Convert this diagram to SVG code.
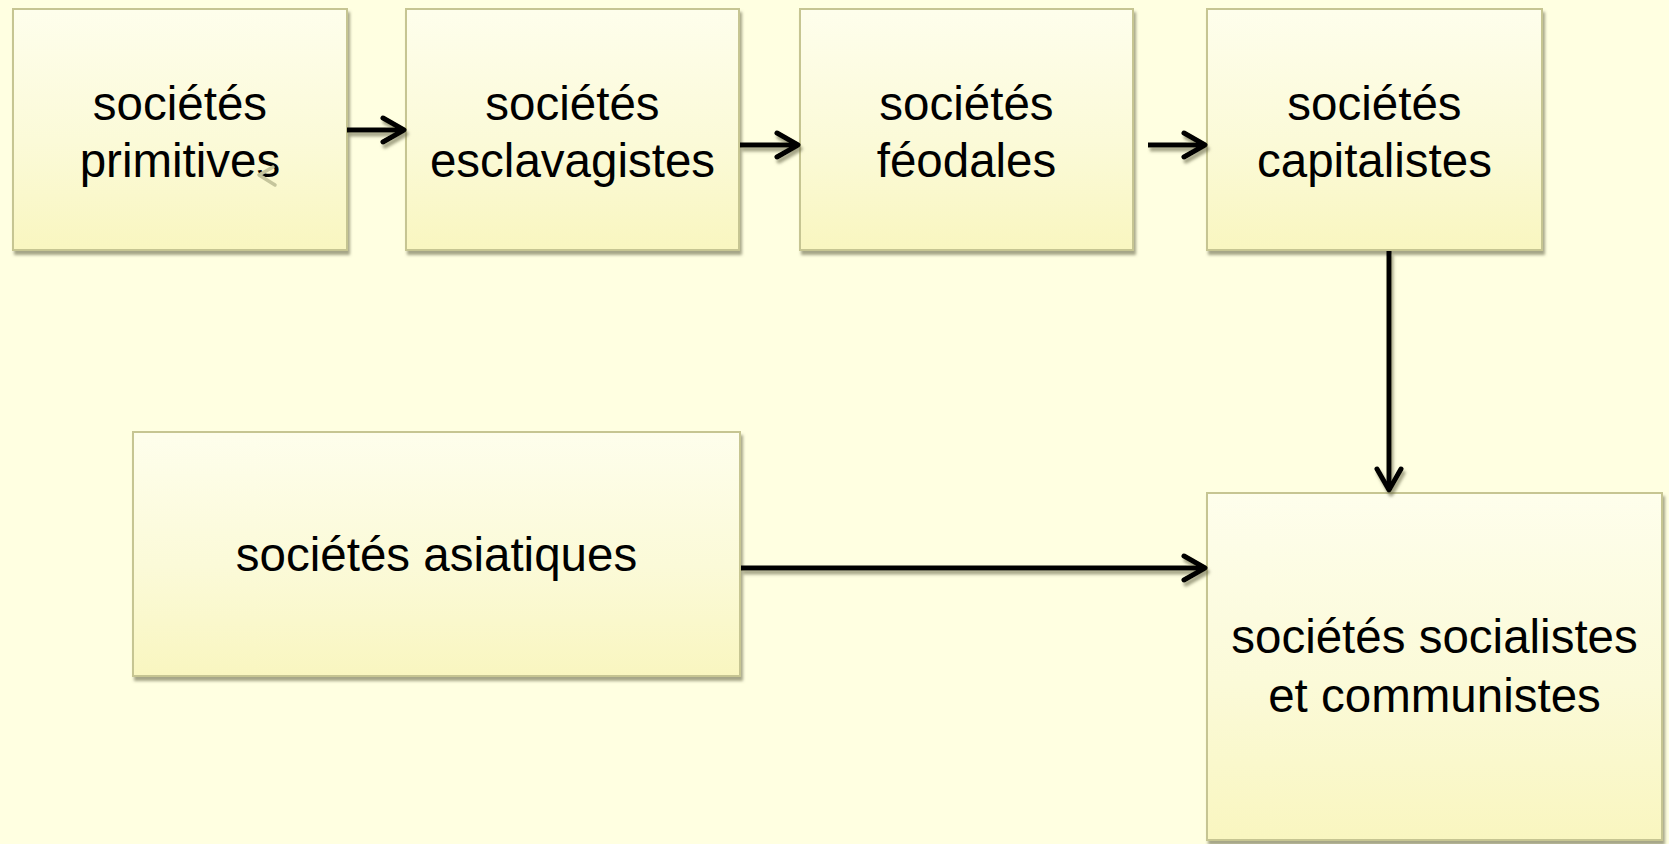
<svg xmlns="http://www.w3.org/2000/svg" width="1669" height="844" viewBox="0 0 1669 844">
  <defs>
    <linearGradient id="boxFill" x1="0" y1="0" x2="0" y2="1">
      <stop offset="0" stop-color="#FEFEEC"/>
      <stop offset="0.55" stop-color="#FBFAD8"/>
      <stop offset="1" stop-color="#F9F6C0"/>
    </linearGradient>
    <filter id="shadow" x="-10%" y="-10%" width="125%" height="125%">
      <feDropShadow dx="2" dy="4" stdDeviation="1.8" flood-color="#6A6A4C" flood-opacity="0.6"/>
    </filter>
    <marker id="arrow" viewBox="-28 -16 32 32" markerWidth="32" markerHeight="32" refX="0" refY="0" orient="auto" markerUnits="userSpaceOnUse">
      <path d="M -21 -12 L 0 0 L -21 12" fill="none" stroke="#000" stroke-width="5" stroke-linecap="round" stroke-linejoin="round"/>
    </marker>
  </defs>
  <style>
    .box { fill: url(#boxFill); stroke: #C6C592; stroke-width: 2; filter: url(#shadow); }
    .lbl { font-family: "Liberation Sans", Arial, sans-serif; font-size: 47.5px; fill: #000; text-anchor: middle; }
    .conn { fill: none; stroke: #000; stroke-width: 5; marker-end: url(#arrow); }
  </style>
  <rect width="1669" height="844" fill="#FFFFE1"/>

  <g id="n-primitives">
    <rect class="box" x="13" y="9" width="334" height="241"/>
    <text class="lbl" x="180" y="120">sociétés</text>
    <text class="lbl" x="180" y="177">primitives</text>
    <polyline points="273,167 259,175 275,185" fill="none" stroke="#C5C59C" stroke-width="3.5" stroke-linecap="round" stroke-linejoin="round"/>
  </g>

  <g id="n-esclavagistes">
    <rect class="box" x="406" y="9" width="333" height="241"/>
    <text class="lbl" x="572.5" y="120">sociétés</text>
    <text class="lbl" x="572.5" y="177">esclavagistes</text>
  </g>

  <g id="n-feodales">
    <rect class="box" x="800" y="9" width="333" height="241"/>
    <text class="lbl" x="966.5" y="120">sociétés</text>
    <text class="lbl" x="966.5" y="177">féodales</text>
  </g>

  <g id="n-capitalistes">
    <rect class="box" x="1207" y="9" width="335" height="241"/>
    <text class="lbl" x="1374.5" y="120">sociétés</text>
    <text class="lbl" x="1374.5" y="177">capitalistes</text>
  </g>

  <g id="n-asiatiques">
    <rect class="box" x="133" y="432" width="607" height="244"/>
    <text class="lbl" x="436.5" y="571">sociétés asiatiques</text>
  </g>

  <g id="n-socialistes">
    <rect class="box" x="1207" y="493" width="455" height="347"/>
    <text class="lbl" x="1434.5" y="653">sociétés socialistes</text>
    <text class="lbl" x="1434.5" y="712">et communistes</text>
  </g>

  <g id="connectors" filter="url(#shadow)">
    <line class="conn" x1="347" y1="130" x2="404" y2="130"/>
    <line class="conn" x1="740" y1="145" x2="798" y2="145"/>
    <line class="conn" x1="1148" y1="145" x2="1205" y2="145"/>
    <line class="conn" x1="1389" y1="251" x2="1389" y2="490"/>
    <line class="conn" x1="741" y1="568" x2="1205" y2="568"/>
  </g>
</svg>
